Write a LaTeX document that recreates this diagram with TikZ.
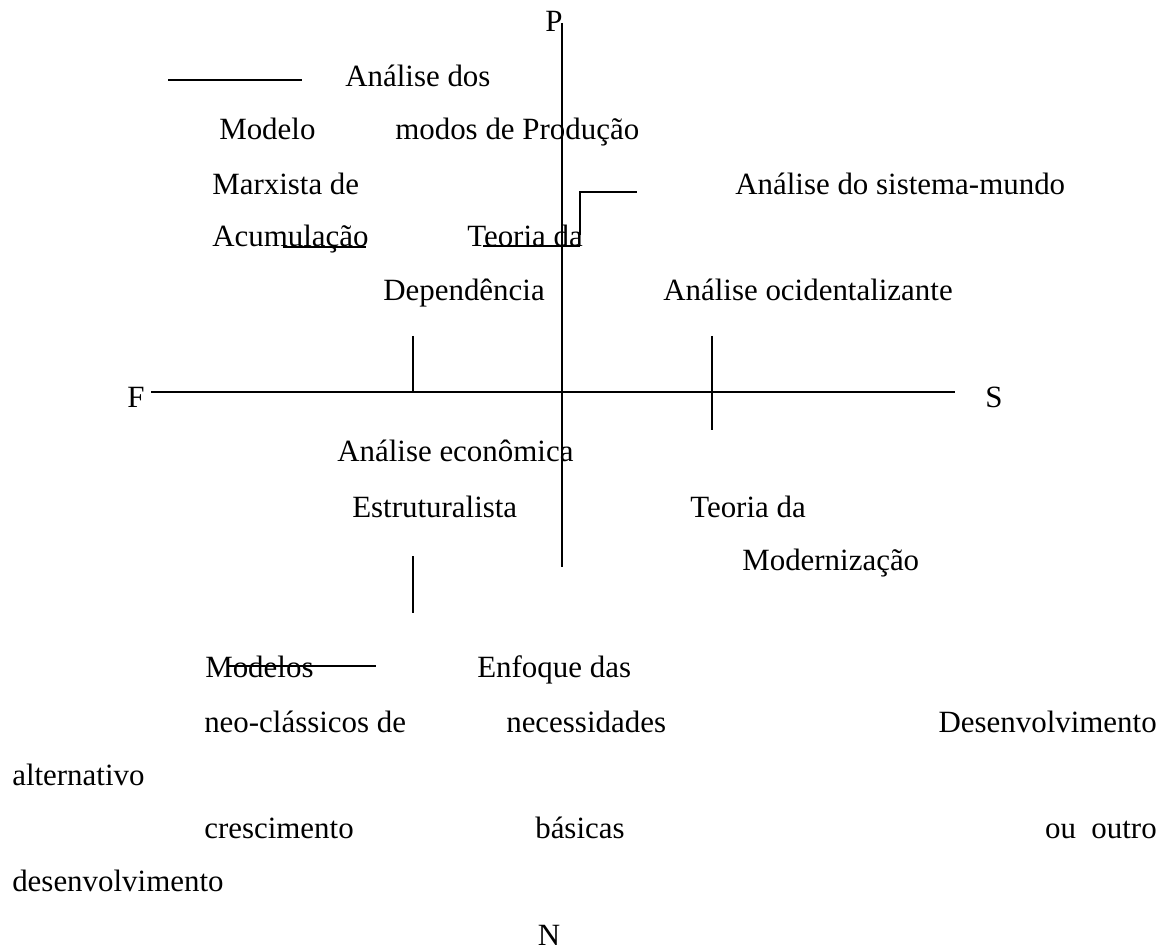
\documentclass[tikz,border=0pt]{standalone}
\usepackage{fontspec}
\setmainfont{Liberation Serif}
\usepackage{tikz}
\usetikzlibrary{calc}
\tikzset{
	txt/.style={anchor=base west, inner sep=0pt, font=\fontsize{22}{26}\selectfont},
	txtr/.style={txt, anchor=base east},
	axis/.style={line width=1.3pt},
	mark line/.style={line width=1.2pt}
}

\begin{document}
\begin{tikzpicture}[x=0.25mm,y=-0.25mm]
		\useasboundingbox (0,0) rectangle (1168,950);
		% axes
		\coordinate (Ptop) at (562,23);
		\coordinate (Nbot) at (562,567);
		\coordinate (Fend) at (151,392);
		\coordinate (Send) at (955,392);
		\draw[axis] (Ptop)--(Nbot);
		\draw[axis] (Fend)--(Send);
		\node[txt, anchor=base] (P) at (554,32) {P};
		\node[txt, anchor=base] (N) at (549,945) {N};
		\node[txt] (F) at (127,408) {F};
		\node[txt] (S) at (985,408) {S};
		% ticks
		\coordinate (T1a) at (413,336);
		\coordinate (T1b) at (413,392);
		\coordinate (T2a) at (712,336);
		\coordinate (T2b) at (712,430);
		\coordinate (T3a) at (413,556);
		\coordinate (T3b) at (413,613);
		\draw[mark line] (T1a)--(T1b);
		\draw[mark line] (T2a)--(T2b);
		\draw[mark line] (T3a)--(T3b);
		% upper left quadrant
		\node[txt] (analiseDos) at (345,87) {Análise dos};
		\node[txt] (modelo) at (219,140) {Modelo};
		\node[txt] (modos) at (395,140) {modos de Produção};
		\node[txt] (marxista) at (212,195) {Marxista de};
		\node[txt] (acumulacao) at (212,247) {Acumulação};
		\node[txt] (teoriaDep) at (467,247) {Teoria da};
		\node[txt] (dependencia) at (383,301) {Dependência};
		\coordinate (L1a) at (168,80);
		\coordinate (L1b) at (302,80);
		\draw[mark line] (L1a)--(L1b);
		\coordinate (U1a) at (283,247);
		\coordinate (U1b) at (366,247);
		\draw[mark line] (U1a)--(U1b);
		\coordinate (U2a) at (483,246);
		\coordinate (U2b) at (580,246);
		\draw[mark line] (U2a)--(U2b);
		\coordinate (K1) at (580,235);
		\coordinate (K2) at (580,192);
		\coordinate (K3) at (637,192);
		\draw[mark line] (K1)--(K2)--(K3);
		% upper right quadrant
		\node[txt] (sistemaMundo) at (735,195) {Análise do sistema-mundo};
		\node[txt] (ocidental) at (663,301) {Análise ocidentalizante};
		% lower half
		\node[txt] (economica) at (337,462) {Análise econômica};
		\node[txt] (estrutural) at (352,517) {Estruturalista};
		\node[txt] (teoriaMod) at (690,517) {Teoria da};
		\node[txt] (modernizacao) at (742,570) {Modernização};
		\node[txt] (modelos) at (205,677) {Modelos};
		\node[txt] (enfoque) at (477,677) {Enfoque das};
		\coordinate (M1a) at (227,666);
		\coordinate (M1b) at (376,666);
		\draw[mark line] (M1a)--(M1b);
		\node[txt] (neoClassicos) at (204,732) {neo-clássicos de};
		\node[txt] (necessidades) at (506,732) {necessidades};
		\node[txtr] (desenvolv) at (1157,732) {Desenvolvimento};
		\node[txt] (alternativo) at (12,785) {alternativo};
		\node[txt] (crescimento) at (204,838) {crescimento};
		\node[txt] (basicas) at (535,838) {básicas};
		\node[txtr] (ouOutro) at (1157,838) {ou\ \ outro};
		\node[txt] (desenvolvB) at (12,891) {desenvolvimento};
	\end{tikzpicture}
\end{document}
